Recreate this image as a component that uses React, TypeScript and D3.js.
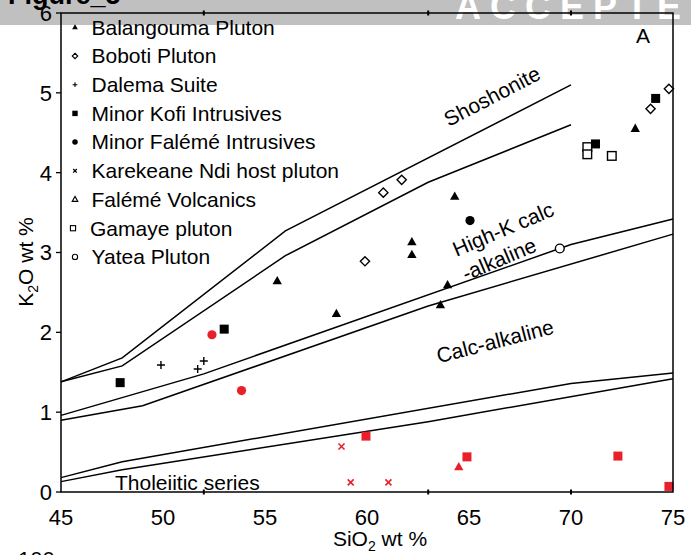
import React from "react";
import * as d3 from "d3";

// K2O vs SiO2 classification (series boundaries drawn as paired lines)
const shoshUpper: [number, number][] = [[45, 1.38], [48, 1.68], [56, 3.27], [70, 5.1]];
const shoshLower: [number, number][] = [[45, 1.38], [48, 1.58], [56, 2.96], [63, 3.88], [70, 4.6]];
const hkUpper: [number, number][] = [[45, 0.96], [52, 1.48], [70, 3.1], [75, 3.42]];
const hkLower: [number, number][] = [[45, 0.9], [49, 1.08], [63, 2.33], [75, 3.23]];
const caUpper: [number, number][] = [[45, 0.18], [48, 0.38], [70, 1.36], [75, 1.49]];
const caLower: [number, number][] = [[45, 0.13], [48, 0.28], [63, 0.88], [75, 1.42]];

// Samples: [SiO2, K2O]
const balangouma: [number, number][] = [
  [55.6, 2.64], [58.5, 2.23], [62.2, 3.13], [62.2, 2.97], [64.3, 3.7],
  [63.95, 2.59], [63.6, 2.34], [73.15, 4.55],
];
const boboti: [number, number][] = [[60.8, 3.75], [61.7, 3.91], [59.9, 2.89], [73.9, 4.8], [74.8, 5.05]];
const dalema: [number, number][] = [[49.9, 1.59], [51.7, 1.54], [52.0, 1.64]];
const kofi: [number, number][] = [[47.9, 1.37], [53.0, 2.04], [71.2, 4.36], [74.15, 4.93]];
const kofiRed: [number, number][] = [[59.95, 0.7], [64.9, 0.44], [72.3, 0.45], [74.8, 0.07]];
const faleme: [number, number][] = [[65.05, 3.4]];
const falemeRed: [number, number][] = [[52.4, 1.97], [53.85, 1.27]];
const karekeaneRed: [number, number][] = [[58.75, 0.57], [59.2, 0.12], [61.05, 0.12]];
const volcanicsRed: [number, number][] = [[64.5, 0.31]];
const gamaye: [number, number][] = [[70.8, 4.32], [70.8, 4.23], [72.0, 4.21]];
const yatea: [number, number][] = [[69.45, 3.05]];

const legendNames = [
  "Balangouma Pluton",
  "Boboti Pluton",
  "Dalema Suite",
  "Minor Kofi Intrusives",
  "Minor Falémé Intrusives",
  "Karekeane Ndi host pluton",
  "Falémé Volcanics",
  "Gamaye pluton",
  "Yatea Pluton",
];
const legendKinds = ["tri", "diamond", "plus", "square", "circle", "x", "triOpen", "squareOpen", "circleOpen"];

const xTicks = [45, 50, 55, 60, 65, 70, 75];
const yTicks = [0, 1, 2, 3, 4, 5, 6];
const nodeTicks = [52, 63, 70];

const RED = "#e8202a";
const FONT = "'Liberation Sans', Arial, Helvetica, sans-serif";

function Marker({ kind, cx, cy, s, color = "#000" }: { kind: string; cx: number; cy: number; s: number; color?: string }) {
  const sw = s > 0.7 ? 1.4 : 1.1;
  switch (kind) {
    case "tri":
    case "triOpen": {
      const h = 5.2 * s;
      const p = `M${cx},${cy - h}L${cx + h * 0.9},${cy + h * 0.6}L${cx - h * 0.9},${cy + h * 0.6}Z`;
      return kind === "tri" ? (
        <path d={p} fill={color} />
      ) : (
        <path d={p} fill="#fff" stroke={color} strokeWidth={sw} />
      );
    }
    case "diamond": {
      const r = 4.6 * s;
      return (
        <path
          d={`M${cx},${cy - r}L${cx + r},${cy}L${cx},${cy + r}L${cx - r},${cy}Z`}
          fill="#fff"
          stroke={color}
          strokeWidth={sw}
        />
      );
    }
    case "plus": {
      const r = 4 * s;
      return (
        <path d={`M${cx - r},${cy}H${cx + r}M${cx},${cy - r}V${cy + r}`} stroke={color} strokeWidth={sw} />
      );
    }
    case "square":
      return <rect x={cx - 4.5 * s} y={cy - 4.5 * s} width={9 * s} height={9 * s} fill={color} />;
    case "squareOpen":
      return (
        <rect
          x={cx - 4.3 * s}
          y={cy - 4.3 * s}
          width={8.6 * s}
          height={8.6 * s}
          fill="#fff"
          stroke={color}
          strokeWidth={sw}
        />
      );
    case "circle":
      return <circle cx={cx} cy={cy} r={4.6 * s} fill={color} />;
    case "circleOpen":
      return <circle cx={cx} cy={cy} r={4.4 * s} fill="#fff" stroke={color} strokeWidth={sw} />;
    case "x": {
      const r = 3 * s;
      return (
        <path
          d={`M${cx - r},${cy - r}L${cx + r},${cy + r}M${cx - r},${cy + r}L${cx + r},${cy - r}`}
          stroke={color}
          strokeWidth={sw + 0.2}
        />
      );
    }
    default:
      return null;
  }
}

export default function App() {
  const W = 691;
  const H = 555;
  const x = d3.scaleLinear().domain([45, 75]).range([61, 673]);
  const y = d3.scaleLinear().domain([0, 6]).range([492, 13]);
  const line = d3
    .line<[number, number]>()
    .x((d) => x(d[0]))
    .y((d) => y(d[1]));

  const boundaries = [shoshUpper, shoshLower, hkUpper, hkLower, caUpper, caLower];

  const series: { data: [number, number][]; kind: string; color: string }[] = [
    { data: balangouma, kind: "tri", color: "#000" },
    { data: boboti, kind: "diamond", color: "#000" },
    { data: dalema, kind: "plus", color: "#000" },
    { data: kofi, kind: "square", color: "#000" },
    { data: kofiRed, kind: "square", color: RED },
    { data: faleme, kind: "circle", color: "#000" },
    { data: falemeRed, kind: "circle", color: RED },
    { data: karekeaneRed, kind: "x", color: RED },
    { data: volcanicsRed, kind: "tri", color: RED },
    { data: gamaye, kind: "squareOpen", color: "#000" },
    { data: yatea, kind: "circleOpen", color: "#000" },
  ];

  const x0 = x.range()[0];
  const x1 = x.range()[1];
  const yTop = y.range()[1];
  const yBot = y.range()[0];

  return (
    <svg
      width={W}
      height={H}
      style={{ position: "absolute", left: 0, top: 0, background: "#fff" }}
      fontFamily={FONT}
    >
      <rect x={0} y={0} width={W} height={H} fill="#fff" />
      {/* header strip */}
      <rect x={0} y={0} width={W} height={25} fill="#c0c0c0" />
      <text x={8} y={4} fontSize={27} fontWeight="bold" fill="#000">
        Figure_5
      </text>
      <text x={455} y={19} fontSize={36} fontWeight="bold" fill="#fff" letterSpacing={9}>
        ACCEPTED
      </text>

      {/* boundaries */}
      {boundaries.map((b, i) => (
        <path key={i} d={line(b) || ""} fill="none" stroke="#000" strokeWidth={1.5} />
      ))}

      {/* field labels */}
      <text x={492} y={96} fontSize={21} textAnchor="middle" dominantBaseline="central" transform="rotate(-27.5 492 96)">
        Shoshonite
      </text>
      <text x={503} y={229} fontSize={21} textAnchor="middle" dominantBaseline="central" transform="rotate(-23 503 229)">
        High-K calc
      </text>
      <text x={499} y={259} fontSize={21} textAnchor="middle" dominantBaseline="central" transform="rotate(-23 499 259)">
        -alkaline
      </text>
      <text x={495} y={341} fontSize={21} textAnchor="middle" dominantBaseline="central" transform="rotate(-14.5 495 341)">
        Calc-alkaline
      </text>
      <text x={115} y={490} fontSize={21}>
        Tholeiitic series
      </text>
      <text x={643} y={43} fontSize={21} textAnchor="middle">
        A
      </text>

      {/* data */}
      {series.map((s, i) => (
        <g key={i}>
          {s.data.map((d, j) => (
            <Marker key={j} kind={s.kind} cx={x(d[0])} cy={y(d[1])} s={1} color={s.color} />
          ))}
        </g>
      ))}

      {/* legend */}
      {legendNames.map((name, i) => {
        const ly = 27.3 + i * 28.7;
        const kind = legendKinds[i];
        const mx = kind === "squareOpen" ? 73 : 75;
        return (
          <g key={name}>
            <Marker kind={kind} cx={mx} cy={ly} s={0.6} />
            <text x={kind === "squareOpen" ? 90 : 91.5} y={ly} fontSize={21} dy="0.35em">
              {name}
            </text>
          </g>
        );
      })}

      {/* frame */}
      <rect x={x0} y={yTop} width={x1 - x0} height={yBot - yTop} fill="none" stroke="#000" strokeWidth={1.5} />

      {/* y axis ticks */}
      {yTicks.map((t) => (
        <g key={t}>
          <line x1={x0 - 5} x2={x0} y1={y(t)} y2={y(t)} stroke="#000" strokeWidth={1.3} />
          <text x={x0 - 9} y={y(t)} dy="0.36em" fontSize={22} textAnchor="end">
            {t}
          </text>
        </g>
      ))}
      {/* x axis labels */}
      {xTicks.map((t) => (
        <text key={t} x={x(t)} y={525} fontSize={22} textAnchor="middle">
          {t}
        </text>
      ))}
      {/* node marks on top and bottom axes */}
      {nodeTicks.map((t) => (
        <g key={t}>
          <line x1={x(t)} x2={x(t)} y1={yBot - 2.5} y2={yBot + 2.5} stroke="#000" strokeWidth={2} />
          <line x1={x(t)} x2={x(t)} y1={yTop - 2.5} y2={yTop + 2.5} stroke="#000" strokeWidth={2} />
        </g>
      ))}

      {/* axis titles */}
      <text x={380} y={546} fontSize={21} textAnchor="middle">
        SiO<tspan fontSize={14} dy={5}>2</tspan>
        <tspan dy={-5}> wt %</tspan>
      </text>
      <text x={33} y={262} fontSize={21} textAnchor="middle" transform="rotate(-90 33 262)">
        K<tspan fontSize={14} dy={5}>2</tspan>
        <tspan dy={-5}>O wt %</tspan>
      </text>

      {/* next panel's tick label at the bottom edge */}
      <text x={18} y={567} fontSize={22}>
        100
      </text>
    </svg>
  );
}
